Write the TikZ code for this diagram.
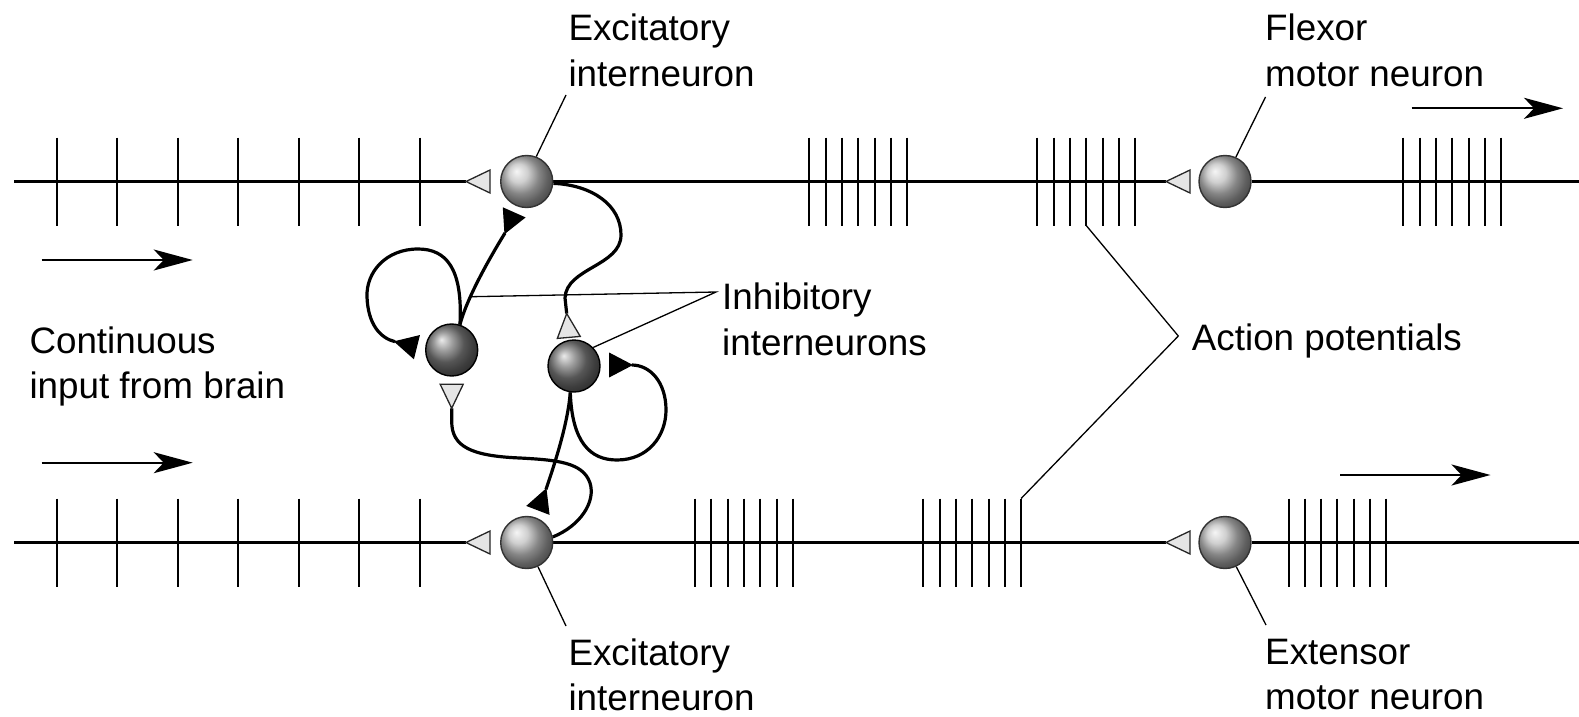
\documentclass[tikz,border=0pt]{standalone}
\usepackage{fontspec}
\setmainfont{Liberation Sans}
\usetikzlibrary{arrows.meta,calc}
\pgfdeclarelayer{back}
\pgfsetlayers{back,main}

\begin{document}
\begin{tikzpicture}[x=1pt,y=-1pt,
  nerve/.style={line width=3.2pt},
  spike/.style={line width=2pt},
  axon/.style={line width=3.2pt},
  leader/.style={line width=1.3pt},
  flow/.style={line width=2.1pt,-{Stealth[length=39pt,width=21pt,inset=10pt]}},
  excite/.style={circle,minimum size=52pt,inner sep=0pt,draw=black!80,line width=1.4pt,ball color=black!25},
  inhibit/.style={circle,minimum size=52pt,inner sep=0pt,draw=black,line width=1.4pt,ball color=black!52},
  txt/.style={font=\fontsize{36.8}{45.6}\selectfont,align=left,anchor=north west,inner sep=0pt},
  excSyn/.pic={\draw[line width=1.3pt,draw=black!85,fill=black!10,line join=miter]
     (0,0) -- (24,11.5) -- (24,-11.5) -- cycle;},
  inhSyn/.pic={\draw[line width=1.2pt,fill=black,line join=miter]
     (0,0) -- (22,11.5) -- (22,-11.5) -- cycle;}
]
\useasboundingbox (0,0) rectangle (1579,717);

% neurons
\node[excite]  (exU)  at (526.7,181.5) {};
\node[excite]  (exL)  at (526.7,542.5) {};
\node[excite]  (flex) at (1225,181.5) {};
\node[excite]  (ext)  at (1225,542.5) {};
\node[inhibit] (inL)  at (451.7,350) {};
\node[inhibit] (inR)  at (574,366) {};

% synaptic terminals (apex points)
\coordinate (sU)  at (466,181.5);
\coordinate (sL)  at (466,542.5);
\coordinate (sF)  at (1166,181.5);
\coordinate (sE)  at (1166,542.5);
\coordinate (sA)  at (505,233);
\coordinate (sLL) at (395,341.7);
\coordinate (sRR) at (631.7,365);
\coordinate (sD)  at (546,489.3);
\coordinate (sI1) at (451.7,408.3);
\coordinate (sI2) at (566.7,313.5);

\pic[rotate=0]    at (sU)  {excSyn};
\pic[rotate=0]    at (sL)  {excSyn};
\pic[rotate=0]    at (sF)  {excSyn};
\pic[rotate=0]    at (sE)  {excSyn};
\pic[rotate=66]   at (sA)  {inhSyn};
\pic[rotate=-14]  at (sLL) {inhSyn};
\pic[rotate=180]  at (sRR) {inhSyn};
\pic[rotate=-111] at (sD)  {inhSyn};
\pic[rotate=90]   at (sI1) {excSyn};
\pic[rotate=-85]  at (sI2) {excSyn};

% labels
\node[txt] (tExU) at (568.3,14) {Excitatory\\interneuron};
\node[txt] (tFlex) at (1265,14) {Flexor\\motor neuron};
\node[txt] (tInh) at (722,283) {Inhibitory\\interneurons};
\node[txt] (tCont) at (29.3,326.5) {Continuous\\input from brain};
\node[txt] (tAP) at (1191.7,323.5) {Action potentials};
\node[txt] (tExL) at (568.3,638.5) {Excitatory\\interneuron};
\node[txt] (tExt) at (1265,638.5) {Extensor\\motor neuron};

% leader end points
\coordinate (exUtip) at (566,95);
\coordinate (flexTip) at (1265.5,97);
\coordinate (exLtip) at (566,626);
\coordinate (extTip) at (1266,625);
\coordinate (inhTip) at (716,292);
\coordinate (inhTap) at (471.7,296.7);
\coordinate (apTip) at (1178.3,336);
\coordinate (apTop) at (1086.2,225.5);
\coordinate (apBot) at (1021.1,498.5);

% flow direction arrows
\coordinate (aw1) at (41.7,260);    \coordinate (ae1) at (192.7,260);
\coordinate (aw2) at (41.7,462.7);  \coordinate (ae2) at (192.7,462.7);
\coordinate (aw3) at (1411.7,108.3); \coordinate (ae3) at (1563,108.3);
\coordinate (aw4) at (1340,475);    \coordinate (ae4) at (1490.5,475);
\draw[flow] (aw1) -- (ae1);
\draw[flow] (aw2) -- (ae2);
\draw[flow] (aw3) -- (ae3);
\draw[flow] (aw4) -- (ae4);

\begin{pgfonlayer}{back}
  % nerve fibres
  \coordinate (inU) at (14,181.5);  \coordinate (outU) at (1579,181.5);
  \coordinate (inLo) at (14,542.5); \coordinate (outLo) at (1579,542.5);
  \draw[nerve] (inU) -- (sU);
  \draw[nerve] (exU) -- (sF);
  \draw[nerve] (flex) -- (outU);
  \draw[nerve] (inLo) -- (sL);
  \draw[nerve] (exL) -- (sE);
  \draw[nerve] (ext) -- (outLo);

  % spike trains
  \foreach \i in {0,...,6} {
    \draw[spike] ({56.7+60.47*\i},137.5) -- ++(0,88);
    \draw[spike] ({56.7+60.47*\i},498.5) -- ++(0,88);
  }
  \foreach \s in {809.3,1037.3,1403.3}
    \foreach \i in {0,...,6}
      \draw[spike] ({\s+16.3*\i},137.5) -- ++(0,88);
  \foreach \s in {695,923.3,1288.5}
    \foreach \i in {0,...,6}
      \draw[spike] ({\s+16.3*\i},498.5) -- ++(0,88);

  % interneuron circuit
  \draw[axon] (exU.-4) .. controls (592,185) and (621,205) .. (621,235)
     .. controls (621,266) and (566,268) .. (565,298) -- (sI2);
  \draw[axon] (exL.12) .. controls (580,526) and (596,502) .. (590,483)
     .. controls (583,462) and (556,460) .. (520,458)
     .. controls (470,456) and (452,446) .. (451.7,422) -- (sI1);
  \draw[axon] (inL.72) .. controls (467,298) and (489,259) .. (sA);
  \draw[axon] (inL.72) .. controls (463,268) and (446,249) .. (418,249)
     .. controls (386,249) and (366,272) .. (367,297)
     .. controls (368,324) and (380,338) .. (sLL);
  \draw[axon] (inR.-98) .. controls (568,422) and (556,460) .. (sD);
  \draw[axon] (inR.-98) .. controls (572,442) and (590,460) .. (617,460)
     .. controls (648,460) and (666,436) .. (666,410)
     .. controls (666,382) and (650,365) .. (sRR);

  % leaders
  \draw[leader] (exU.69) -- (exUtip);
  \draw[leader] (flex.66) -- (flexTip);
  \draw[leader] (exL.-65) -- (exLtip);
  \draw[leader] (ext.-65) -- (extTip);
  \draw[leader] (inhTap) -- (inhTip) -- (inR.44);
  \draw[leader] (apTop) -- (apTip) -- (apBot);
\end{pgfonlayer}
\end{tikzpicture}
\end{document}
